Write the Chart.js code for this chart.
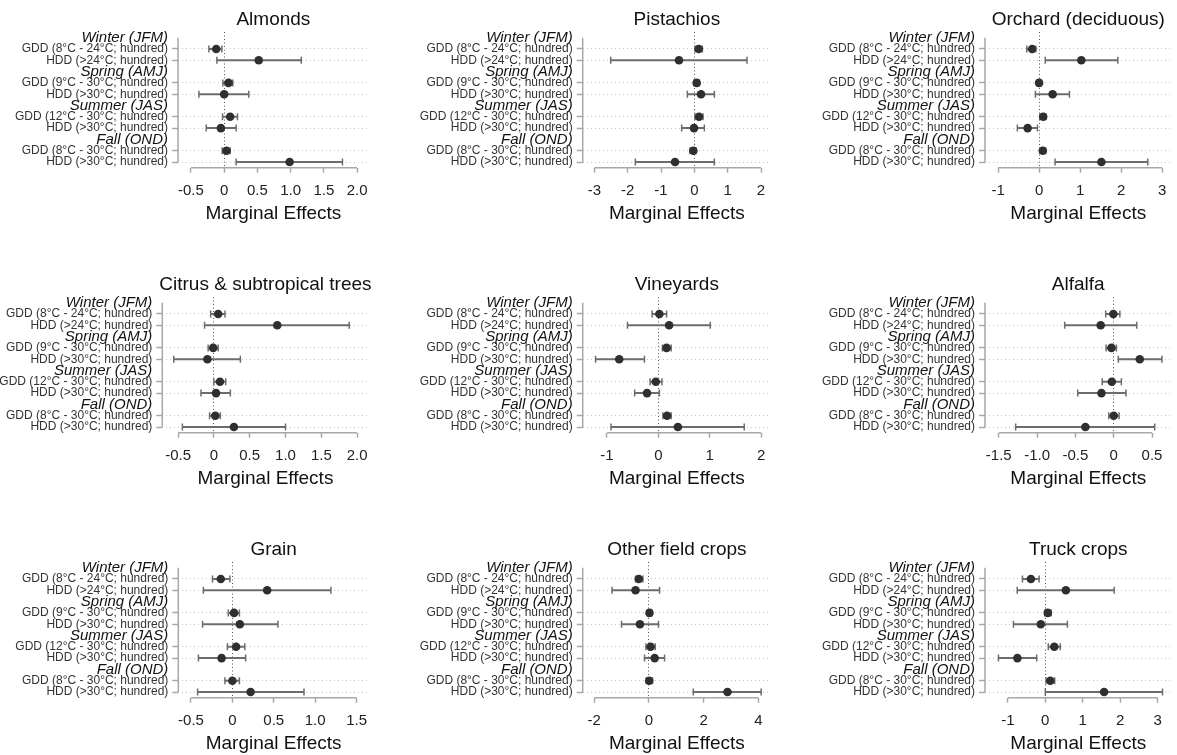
<!DOCTYPE html>
<html>
<head>
<meta charset="utf-8">
<script src="https://cdn.jsdelivr.net/npm/chart.js@4.4.1/dist/chart.umd.min.js"></script>
<style>
  html, body { margin: 0; padding: 0; background: #fff; }
  body { width: 1177px; height: 755px; position: relative; overflow: hidden; }
  canvas { position: absolute; }
</style>
</head>
<body>
<script>
// rows of every panel, top to bottom (headers are the season names)
const rowLabels = [
  'Winter (JFM)', 'GDD (8°C - 24°C; hundred)', 'HDD (>24°C; hundred)',
  'Spring (AMJ)', 'GDD (9°C - 30°C; hundred)', 'HDD (>30°C; hundred)',
  'Summer (JAS)', 'GDD (12°C - 30°C; hundred)', 'HDD (>30°C; hundred)',
  'Fall (OND)', 'GDD (8°C - 30°C; hundred)', 'HDD (>30°C; hundred)'
];
const headerRows = [0, 3, 6, 9];
const varRows = [1, 2, 4, 5, 7, 8, 10, 11];

const crops = ['Almonds', 'Pistachios', 'Orchard (deciduous)', 'Citrus & subtropical trees',
  'Vineyards', 'Alfalfa', 'Grain', 'Other field crops', 'Truck crops'];

// point estimates and 95% CI, one value per variable row
const almondsEst = [-0.12, 0.52, 0.065, 0.0, 0.09, -0.05, 0.035, 0.985];
const almondsLo  = [-0.23, -0.11, -0.02, -0.38, -0.025, -0.27, -0.03, 0.18];
const almondsHi  = [-0.035, 1.16, 0.13, 0.37, 0.20, 0.18, 0.09, 1.78];

const pistachiosEst = [0.13, -0.46, 0.07, 0.20, 0.14, -0.01, -0.03, -0.58];
const pistachiosLo  = [0.02, -2.51, -0.01, -0.21, 0.02, -0.38, -0.13, -1.77];
const pistachiosHi  = [0.24, 1.58, 0.15, 0.60, 0.26, 0.30, 0.05, 0.60];

const orchardEst = [-0.17, 1.03, 0.0, 0.33, 0.10, -0.28, 0.09, 1.52];
const orchardLo  = [-0.30, 0.15, -0.06, -0.09, 0.02, -0.53, 0.02, 0.39];
const orchardHi  = [-0.08, 1.92, 0.05, 0.74, 0.17, -0.04, 0.16, 2.65];

const citrusEst = [0.06, 0.885, -0.01, -0.09, 0.085, 0.03, 0.02, 0.28];
const citrusLo  = [-0.045, -0.13, -0.08, -0.56, 0.0, -0.18, -0.06, -0.44];
const citrusHi  = [0.155, 1.89, 0.06, 0.37, 0.165, 0.23, 0.09, 1.0];

const vineyardsEst = [0.02, 0.21, 0.16, -0.76, -0.05, -0.22, 0.17, 0.38];
const vineyardsLo  = [-0.12, -0.60, 0.08, -1.22, -0.16, -0.46, 0.09, -0.92];
const vineyardsHi  = [0.16, 1.01, 0.25, -0.27, 0.07, 0.02, 0.25, 1.67];

const alfalfaEst = [-0.005, -0.17, -0.03, 0.34, -0.025, -0.16, 0.0, -0.37];
const alfalfaLo  = [-0.105, -0.64, -0.10, 0.06, -0.15, -0.47, -0.065, -1.28];
const alfalfaHi  = [0.08, 0.30, 0.035, 0.63, 0.10, 0.16, 0.07, 0.535];

const grainEst = [-0.14, 0.42, 0.02, 0.09, 0.045, -0.13, 0.0, 0.22];
const grainLo  = [-0.24, -0.35, -0.05, -0.36, -0.06, -0.41, -0.09, -0.42];
const grainHi  = [-0.03, 1.19, 0.085, 0.55, 0.15, 0.16, 0.085, 0.865];

const otherEst = [-0.37, -0.49, 0.02, -0.33, 0.06, 0.21, 0.01, 2.87];
const otherLo  = [-0.49, -1.35, -0.06, -1.0, -0.11, -0.16, -0.10, 1.62];
const otherHi  = [-0.22, 0.39, 0.11, 0.35, 0.23, 0.57, 0.13, 4.10];

const truckEst = [-0.385, 0.55, 0.065, -0.12, 0.24, -0.745, 0.135, 1.57];
const truckLo  = [-0.61, -0.75, -0.015, -0.85, 0.08, -1.25, 0.02, 0.0];
const truckHi  = [-0.165, 1.84, 0.16, 0.59, 0.40, -0.23, 0.25, 3.13];

// x tick values and their printed labels
const ticksHalf   = [-0.5, 0, 0.5, 1, 1.5, 2];
const labelsHalf  = ['-0.5', '0', '0.5', '1.0', '1.5', '2.0'];
const ticksPist   = [-3, -2, -1, 0, 1, 2];
const ticksOrch   = [-1, 0, 1, 2, 3];
const ticksVine   = [-1, 0, 1, 2];
const ticksAlf    = [-1.5, -1, -0.5, 0, 0.5];
const labelsAlf   = ['-1.5', '-1.0', '-0.5', '0', '0.5'];
const ticksGrain  = [-0.5, 0, 0.5, 1, 1.5];
const labelsGrain = ['-0.5', '0', '0.5', '1.0', '1.5'];
const ticksOther  = [-2, 0, 2, 4];

const estimates = [almondsEst, pistachiosEst, orchardEst, citrusEst, vineyardsEst, alfalfaEst, grainEst, otherEst, truckEst];
const lower = [almondsLo, pistachiosLo, orchardLo, citrusLo, vineyardsLo, alfalfaLo, grainLo, otherLo, truckLo];
const upper = [almondsHi, pistachiosHi, orchardHi, citrusHi, vineyardsHi, alfalfaHi, grainHi, otherHi, truckHi];
const tickVals = [ticksHalf, ticksPist, ticksOrch, ticksHalf, ticksVine, ticksAlf, ticksGrain, ticksOther, ticksOrch];
const tickText = [labelsHalf, null, null, labelsHalf, null, labelsAlf, labelsGrain, null, null];

// panel geometry: label column width, plot right edge, x range
const layout = [
  { axisW: 178,   right: 369, min: -0.695, max: 2.176 },
  { axisW: 182.7, right: 371, min: -3.35,  max: 2.30 },
  { axisW: 185,   right: 374, min: -1.32,  max: 3.23 },
  { axisW: 162.3, right: 369, min: -0.72,  max: 2.16 },
  { axisW: 182.7, right: 371, min: -1.47,  max: 2.19 },
  { axisW: 185,   right: 374, min: -1.68,  max: 0.754 },
  { axisW: 178.3, right: 369, min: -0.653, max: 1.65 },
  { axisW: 182.7, right: 371, min: -2.42,  max: 4.46 },
  { axisW: 185,   right: 374, min: -1.61,  max: 3.37 }
];

const FONT = '"Liberation Sans", Arial, Helvetica, sans-serif';
Chart.defaults.font.family = FONT;
Chart.defaults.color = '#333';

const CANVAS_W = 377, CANVAS_H = 225;
const CI_COLOR = '#6c6c6c';
const AXIS_COLOR = '#a8a8a8';
const clear = 'rgba(0,0,0,0)';

// axis lines that span only the ticks, plus the title centred on the plot
const framePlugin = {
  id: 'frame',
  afterDraw(chart, args, opts) {
    const { ctx, chartArea: a, scales: { x, y } } = chart;
    const t = x.ticks;
    ctx.save();
    ctx.strokeStyle = AXIS_COLOR;
    ctx.lineWidth = 1.5;
    ctx.beginPath();
    ctx.moveTo(a.left, y.getPixelForValue(0));
    ctx.lineTo(a.left, y.getPixelForValue(rowLabels.length - 1));
    ctx.moveTo(x.getPixelForValue(t[0].value), a.bottom);
    ctx.lineTo(x.getPixelForValue(t[t.length - 1].value), a.bottom);
    ctx.stroke();
    ctx.fillStyle = '#111';
    ctx.font = '19px ' + FONT;
    ctx.textAlign = 'center';
    ctx.textBaseline = 'alphabetic';
    ctx.fillText(opts.title, (a.left + a.right) / 2, 25);
    ctx.restore();
  }
};

crops.forEach((name, p) => {
  const L = layout[p];
  const canvas = document.createElement('canvas');
  canvas.width = CANVAS_W;
  canvas.height = CANVAS_H;
  canvas.style.left = (p % 3) * 400 + 'px';
  canvas.style.top = Math.floor(p / 3) * 265 + 'px';
  document.body.appendChild(canvas);

  const est = estimates[p], lo = lower[p], hi = upper[p];
  const ticks = tickVals[p];
  const labels = tickText[p] || ticks.map(String);

  const ciSets = varRows.map((r, k) => ({
    data: [{ x: lo[k], y: r }, { x: hi[k], y: r }],
    showLine: true,
    borderColor: CI_COLOR,
    borderWidth: 2,
    pointStyle: 'line',
    pointRotation: 90,
    pointRadius: 3.5,
    pointBorderColor: CI_COLOR,
    pointBorderWidth: 1.5
  }));

  const pointSet = {
    data: varRows.map((r, k) => ({ x: est[k], y: r })),
    pointStyle: 'circle',
    pointRadius: 4.3,
    pointBackgroundColor: '#2f2f2f',
    pointBorderWidth: 0
  };

  new Chart(canvas, {
    type: 'scatter',
    data: { datasets: [pointSet, ...ciSets] },
    options: {
      responsive: false,
      animation: false,
      events: [],
      layout: { padding: { top: 32, right: CANVAS_W - L.right, left: 0, bottom: 0 } },
      plugins: {
        legend: { display: false },
        tooltip: { enabled: false },
        frame: { title: name }
      },
      scales: {
        x: {
          type: 'linear',
          min: L.min,
          max: L.max,
          afterBuildTicks: s => { s.ticks = ticks.map(v => ({ value: v })); },
          afterFit: s => { s.height = 57.3; },
          ticks: {
            autoSkip: false,
            maxRotation: 0,
            padding: 9,
            color: '#222',
            font: { size: 15 },
            callback: (v, i) => labels[i]
          },
          grid: {
            color: ctx => (ctx.tick && ctx.tick.value === 0 ? '#555' : clear),
            lineWidth: 1,
            tickColor: AXIS_COLOR,
            tickWidth: 1.5,
            tickLength: 5
          },
          border: { display: false, dash: [1, 2.5] },
          title: {
            display: true,
            text: 'Marginal Effects',
            color: '#111',
            font: { size: 19 },
            padding: { top: 0, bottom: 0 }
          }
        },
        y: {
          type: 'linear',
          reverse: true,
          min: -0.5,
          max: rowLabels.length - 0.5,
          afterBuildTicks: s => { s.ticks = rowLabels.map((_, i) => ({ value: i })); },
          afterFit: s => { s.width = L.axisW; },
          ticks: {
            autoSkip: false,
            padding: 4,
            color: ctx => (headerRows.includes(ctx.index) ? '#111' : '#333'),
            font: ctx => (headerRows.includes(ctx.index)
              ? { size: 15, style: 'italic' }
              : { size: 12 }),
            callback: (v, i) => rowLabels[i]
          },
          grid: {
            color: ctx => (headerRows.includes(ctx.index) ? clear : '#c4c4c4'),
            lineWidth: 1,
            tickColor: ctx => (headerRows.includes(ctx.index) ? clear : AXIS_COLOR),
            tickWidth: 1.5,
            tickLength: 6
          },
          border: { display: false, dash: [1, 3] }
        }
      }
    },
    plugins: [framePlugin]
  });
});
</script>
</body>
</html>
